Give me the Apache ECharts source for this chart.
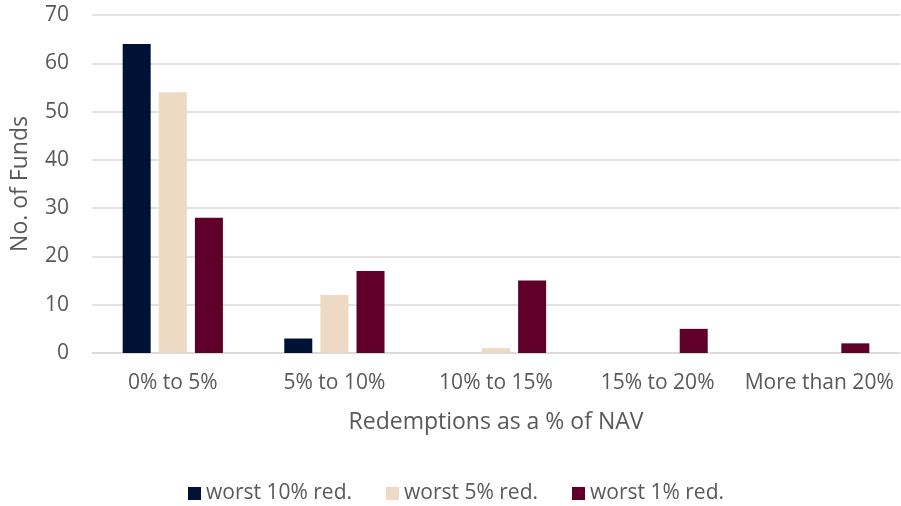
<!DOCTYPE html>
<html>
<head>
<meta charset="utf-8">
<script src="https://cdn.jsdelivr.net/npm/echarts@6/dist/echarts.min.js"></script>
<style>
  html, body { margin: 0; padding: 0; background: #fff; }
  #chart { width: 901px; height: 506px; }
</style>
</head>
<body>
<div id="chart"></div>
<script>
// Redemption buckets (share of NAV)
const categories = ['0% to 5%', '5% to 10%', '10% to 15%', '15% to 20%', 'More than 20%'];
// Number of funds per bucket for each redemption scenario
const worst10 = [64, 3, 0, 0, 0];
const worst5 = [54, 12, 1, 0, 0];
const worst1 = [28, 17, 15, 5, 2];
const seriesNames = ['worst 10% red.', 'worst 5% red.', 'worst 1% red.'];
const yTicks = { min: 0, max: 70, interval: 10 };

const font = '"Open Sans", "Noto Sans", sans-serif';
const textColor = '#595959';
const colors = ['#001136', '#EDD9C4', '#60002A'];

const chart = echarts.init(document.getElementById('chart'), null, { renderer: 'canvas' });

const makeSeries = (name, data, color) => ({
  name: name,
  type: 'bar',
  data: data,
  barWidth: 28,
  barGap: '29%',
  itemStyle: { color: color },
  emphasis: { disabled: true }
});

chart.setOption({
  animation: false,
  textStyle: { fontFamily: font, color: textColor },
  grid: { left: 92, right: 1, top: 15, bottom: 153, containLabel: false },
  legend: {
    top: 478,
    left: 183,
    itemWidth: 13,
    itemHeight: 13,
    itemGap: 34,
    icon: 'rect',
    textStyle: { fontFamily: font, fontSize: 21, color: textColor },
    data: seriesNames
  },
  xAxis: {
    type: 'category',
    data: categories,
    name: 'Redemptions as a % of NAV',
    nameLocation: 'middle',
    nameGap: 58,
    nameTextStyle: { fontFamily: font, fontSize: 23, color: textColor },
    axisLine: { show: true, lineStyle: { color: '#D9D9D9', width: 1.5 } },
    axisTick: { show: false },
    axisLabel: { fontFamily: font, fontSize: 21, color: textColor, margin: 20, interval: 0 }
  },
  yAxis: {
    type: 'value',
    min: yTicks.min,
    max: yTicks.max,
    interval: yTicks.interval,
    name: 'No. of Funds',
    nameLocation: 'middle',
    nameGap: 60,
    nameRotate: 90,
    nameTextStyle: { fontFamily: font, fontSize: 23, color: textColor },
    axisLine: { show: false },
    axisTick: { show: false },
    axisLabel: { fontFamily: font, fontSize: 21, color: textColor, margin: 23 },
    splitLine: { lineStyle: { color: '#D9D9D9', width: 1.5 } }
  },
  series: [
    makeSeries(seriesNames[0], worst10, colors[0]),
    makeSeries(seriesNames[1], worst5, colors[1]),
    makeSeries(seriesNames[2], worst1, colors[2])
  ]
});
</script>
</body>
</html>
